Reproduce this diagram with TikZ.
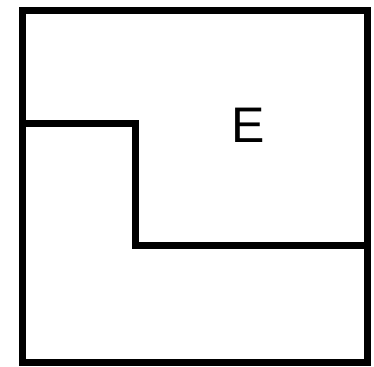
\documentclass[tikz,border=0pt]{standalone}
\usepackage{fontspec}
\setmainfont{Liberation Sans}
\tikzset{
  every picture/.style={line width=7pt},
  wall/.style={draw=black, line cap=rect, line join=miter},
  region/.style={font=\fontsize{50}{50}\selectfont, inner sep=0pt},
}
\begin{document}
\begin{tikzpicture}[x=1pt, y=-1pt]
  \useasboundingbox (0,0) rectangle (374,366);
  % outer frame
  \draw[wall] (22,10.5) rectangle (367,362.5);
  % split line
  \draw[wall, line cap=butt] (22,124) -- (135.5,124) -- (135.5,245.5) -- (367,245.5);
  \node[region] (e) at (248.5,125) {E};
\end{tikzpicture}
\end{document}
